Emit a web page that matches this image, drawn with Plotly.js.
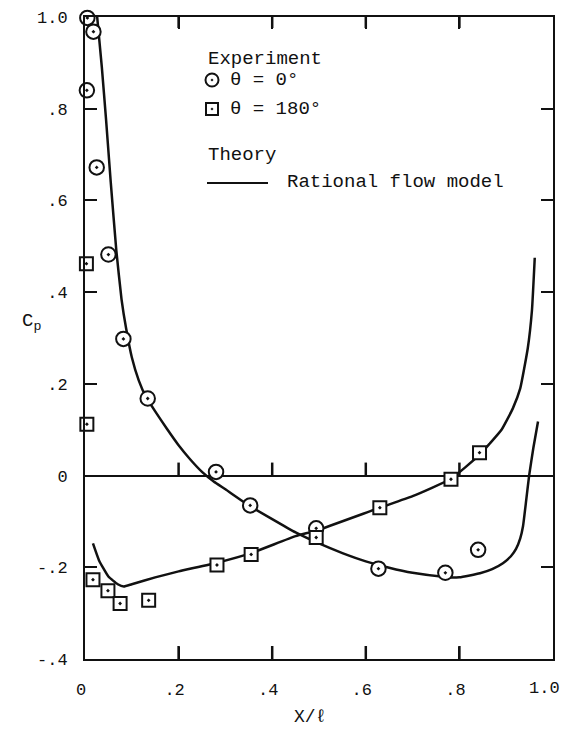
<!DOCTYPE html>
<html>
<head>
<meta charset="utf-8">
<script src="https://cdn.plot.ly/plotly-3.0.1.min.js"></script>
<style>html,body{margin:0;padding:0;background:#fff;}#chart{width:564px;height:738px;}</style>
</head>
<body>
<div id="chart"></div>
<script>
// ---- data ----
var circleX = [0.005, 0.018, 0.004, 0.025, 0.050, 0.082, 0.134, 0.280, 0.353, 0.494, 0.627, 0.770, 0.840];
var circleY = [0.998, 0.968, 0.840, 0.672, 0.482, 0.298, 0.168, 0.008, -0.065, -0.115, -0.203, -0.212, -0.162];

var squareX = [0.003, 0.004, 0.017, 0.049, 0.075, 0.136, 0.282, 0.355, 0.494, 0.630, 0.782, 0.843];
var squareY = [0.462, 0.112, -0.227, -0.251, -0.279, -0.272, -0.195, -0.172, -0.135, -0.070, -0.008, 0.050];

var theory0X = [0.026, 0.036, 0.045, 0.055, 0.067, 0.078, 0.088, 0.100, 0.115, 0.130, 0.150, 0.175, 0.200, 0.225, 0.250, 0.275, 0.300, 0.350, 0.400, 0.450, 0.500, 0.550, 0.600, 0.650, 0.700, 0.770, 0.800, 0.844, 0.870, 0.893, 0.910, 0.921, 0.930, 0.936, 0.942, 0.949, 0.958, 0.968];
var theory0Y = [1.000, 0.890, 0.776, 0.640, 0.490, 0.385, 0.320, 0.258, 0.207, 0.172, 0.140, 0.102, 0.066, 0.035, 0.008, -0.013, -0.030, -0.065, -0.095, -0.124, -0.148, -0.169, -0.187, -0.201, -0.212, -0.221, -0.222, -0.213, -0.204, -0.191, -0.176, -0.160, -0.137, -0.110, -0.060, 0.000, 0.060, 0.118];

var theory180X = [0.017, 0.030, 0.050, 0.070, 0.083, 0.100, 0.150, 0.200, 0.282, 0.355, 0.450, 0.494, 0.630, 0.700, 0.782, 0.843, 0.865, 0.890, 0.914, 0.930, 0.946, 0.955, 0.961];
var theory180Y = [-0.148, -0.185, -0.220, -0.237, -0.242, -0.237, -0.222, -0.209, -0.190, -0.169, -0.132, -0.120, -0.070, -0.045, -0.007, 0.045, 0.070, 0.100, 0.146, 0.190, 0.277, 0.360, 0.475];

var xTickVals = [0, 0.2, 0.4, 0.6, 0.8, 1.0];
var xTickText = ['0', '.2', '.4', '.6', '.8', '1.0'];
var yTickVals = [-0.4, -0.2, 0, 0.2, 0.4, 0.6, 0.8, 1.0];
var yTickText = ['-.4', '-.2', '0', '.2', '.4', '.6', '.8', '1.0'];
var zeroTickVals = [0.2, 0.4, 0.6, 0.8];

var legendHeader1 = 'Experiment';
var legendLabel0 = '\u03B8 = 0\u00B0';
var legendLabel180 = '\u03B8 = 180\u00B0';
var legendHeader2 = 'Theory';
var legendLabelTheory = 'Rational flow model';
var xTitle = 'X/\u2113';
var yTitle = 'C<sub>p</sub>';

// ---- layout helpers (pixel -> paper) ----
var W = 564, H = 738, ML = 85, MR = 11, MT = 17, MB = 79;
var PW = W - ML - MR, PH = H - MT - MB;
var X_RANGE = [0, 1], Y_RANGE = [-0.4, 1.0];
function px(x) { return (x - ML) / PW; }
function py(y) { return (H - MB - y) / PH; }
var TICK_PX = 12;
var VTICK_PX = 13;
var tickLenY = VTICK_PX * (Y_RANGE[1] - Y_RANGE[0]) / PH;   // vertical tick length in data units

var FONT = 'Liberation Mono, DejaVu Sans Mono, monospace';
var INK = '#111';

var lastIdx = xTickText.length - 1;
var xTickTextShown = xTickText.map(function (t, i) { return i === lastIdx ? ' ' : t; });

var traces = [
  {x: theory0X, y: theory0Y, type: 'scatter', mode: 'lines',
   line: {color: INK, width: 2.5, shape: 'spline', smoothing: 0.4}, hoverinfo: 'skip', showlegend: false},
  {x: theory180X, y: theory180Y, type: 'scatter', mode: 'lines',
   line: {color: INK, width: 2.5, shape: 'spline', smoothing: 0.4}, hoverinfo: 'skip', showlegend: false},
  {x: circleX, y: circleY, type: 'scatter', mode: 'markers', showlegend: false, cliponaxis: false,
   marker: {symbol: 'circle-dot', size: 14.5, color: '#fff', line: {color: INK, width: 2}}},
  {x: squareX, y: squareY, type: 'scatter', mode: 'markers', showlegend: false, cliponaxis: false,
   marker: {symbol: 'square-dot', size: 13, color: '#fff', line: {color: INK, width: 2}}}
];

function ann(text, xp, yp, anchor, size) {
  return {text: text, xref: 'paper', yref: 'paper', x: xp, y: yp, xanchor: anchor || 'left', yanchor: 'middle',
          showarrow: false, font: {family: FONT, size: size || 17, color: INK}};
}

var shapes = [
  {type: 'circle', xref: 'paper', yref: 'paper', xsizemode: 'pixel', ysizemode: 'pixel',
   xanchor: px(212), yanchor: py(80), x0: -6.5, x1: 6.5, y0: -6.5, y1: 6.5, line: {color: INK, width: 2}},
  {type: 'circle', xref: 'paper', yref: 'paper', xsizemode: 'pixel', ysizemode: 'pixel',
   xanchor: px(212), yanchor: py(80), x0: -1, x1: 1, y0: -1, y1: 1, fillcolor: INK, line: {color: INK, width: 0.5}},
  {type: 'rect', xref: 'paper', yref: 'paper', xsizemode: 'pixel', ysizemode: 'pixel',
   xanchor: px(212), yanchor: py(109), x0: -6, x1: 6, y0: -6, y1: 6, line: {color: INK, width: 2}},
  {type: 'circle', xref: 'paper', yref: 'paper', xsizemode: 'pixel', ysizemode: 'pixel',
   xanchor: px(212), yanchor: py(109), x0: -1, x1: 1, y0: -1, y1: 1, fillcolor: INK, line: {color: INK, width: 0.5}},
  {type: 'line', xref: 'paper', yref: 'paper', x0: px(207), x1: px(268), y0: py(183), y1: py(183),
   line: {color: INK, width: 2}}
];
// vertical tick marks: standing on the zero line, on the bottom frame and hanging from the top frame
zeroTickVals.forEach(function (v) {
  shapes.push({type: 'line', xref: 'x', yref: 'y', x0: v, x1: v, y0: 0, y1: tickLenY,
               line: {color: INK, width: 2.5}, layer: 'above'});
  shapes.push({type: 'line', xref: 'x', yref: 'y', x0: v, x1: v, y0: Y_RANGE[0], y1: Y_RANGE[0] + tickLenY,
               line: {color: INK, width: 2.5}, layer: 'above'});
  shapes.push({type: 'line', xref: 'x', yref: 'y', x0: v, x1: v, y0: Y_RANGE[1], y1: Y_RANGE[1] - tickLenY * 0.85,
               line: {color: INK, width: 2.5}, layer: 'above'});
});

var layout = {
  width: W, height: H,
  margin: {l: ML, r: MR, t: MT, b: MB, pad: 0},
  paper_bgcolor: '#fff', plot_bgcolor: '#fff',
  showlegend: false,
  font: {family: FONT, size: 17, color: INK},
  xaxis: {range: X_RANGE, tickvals: xTickVals, ticktext: xTickTextShown, ticks: 'inside', ticklen: TICK_PX, tickwidth: 2,
          tickcolor: INK, showline: true, linewidth: 2, linecolor: INK, mirror: 'ticks', showgrid: false,
          zeroline: false, ticklabelstandoff: 14, ticklabelshift: -4,
          tickfont: {family: FONT, size: 17, color: INK}, fixedrange: true},
  yaxis: {range: Y_RANGE, tickvals: yTickVals, ticktext: yTickText, ticks: 'inside', ticklen: TICK_PX, tickwidth: 2,
          tickcolor: INK, showline: true, linewidth: 2, linecolor: INK, mirror: 'ticks', showgrid: false,
          zeroline: true, zerolinewidth: 2, zerolinecolor: INK,
          ticklabelstandoff: 12, tickfont: {family: FONT, size: 17, color: INK}, fixedrange: true},
  annotations: [
    ann(legendHeader1, px(206), py(59), 'left', 19),
    ann(legendLabel0, px(228), py(80), 'left', 19),
    ann(legendLabel180, px(228), py(109), 'left', 19),
    ann(legendHeader2, px(206), py(155), 'left', 19),
    ann(legendLabelTheory, px(285), py(182), 'left', 19),
    ann(xTitle, px(310), py(717), 'center', 18),
    ann(yTitle, px(31), py(322), 'center', 19),
    {text: xTickText[lastIdx], xref: 'x', yref: 'paper', x: xTickVals[lastIdx], y: py(689), xshift: -9,
     xanchor: 'center', yanchor: 'middle', showarrow: false, font: {family: FONT, size: 17, color: INK}}
  ],
  shapes: shapes
};

Plotly.newPlot('chart', traces, layout, {displayModeBar: false, staticPlot: true});
</script>
</body>
</html>
